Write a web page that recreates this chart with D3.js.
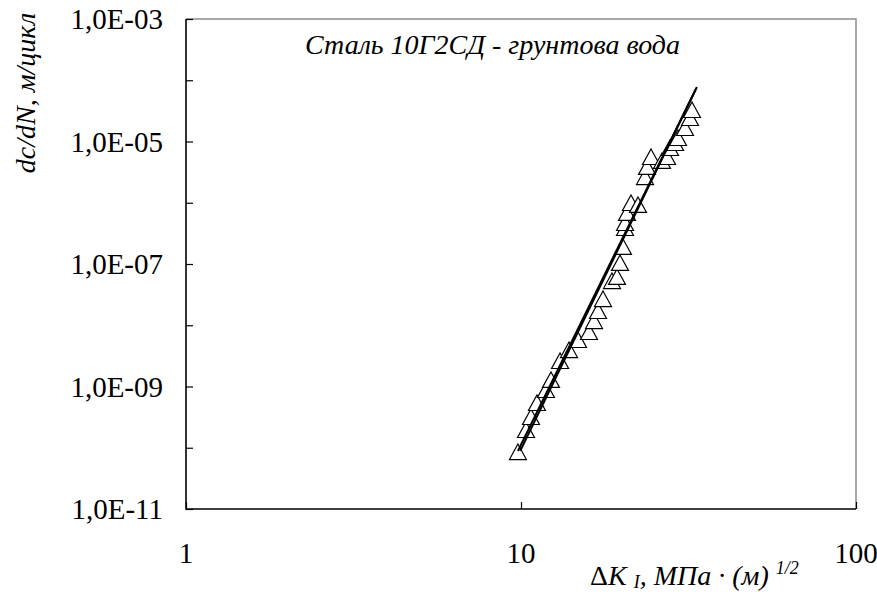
<!DOCTYPE html>
<html>
<head>
<meta charset="utf-8">
<script src="https://cdn.jsdelivr.net/npm/d3@7"></script>
<style>
  body { margin: 0; background: #fff; }
  text { font-family: "Liberation Serif", "Times New Roman", serif; fill: #000; }
</style>
</head>
<body>
<svg id="chart" width="877" height="592"></svg>
<script>
// measured points: stress intensity range and crack growth rate
var dK = [9.79, 10.35, 10.71, 11.16, 11.87, 12.29, 13.08, 13.91, 14.80, 15.96,
          16.52, 16.98, 17.57, 18.69, 19.35, 19.75, 20.16, 20.44, 20.44, 20.72,
          21.30, 22.35, 23.45, 23.78, 24.44, 26.36, 27.29, 27.85, 28.83, 29.42,
          30.87, 31.95, 32.39];
var rate = [8.5e-11, 1.95e-10, 3.18e-10, 5.38e-10, 8.77e-10, 1.28e-9, 2.61e-9, 3.94e-9, 5.74e-9, 7.76e-9,
            1.17e-8, 1.71e-8, 2.68e-8, 5.27e-8, 6.14e-8, 1.04e-7, 1.90e-7, 3.87e-7, 4.67e-7, 6.81e-7,
            9.9e-7, 9.2e-7, 2.63e-6, 3.84e-6, 5.58e-6, 4.81e-6, 5.58e-6, 7.83e-6, 9.46e-6, 1.14e-5,
            1.66e-5, 2.42e-5, 3.27e-5];

// fitted lines (two, nearly overlapping)
var fitK1 = [9.79, 33.5], fitV1 = [8.85e-11, 7.76e-5];
var fitK2 = [9.95, 33.2], fitV2 = [8.9e-11, 7.0e-5];

var xTicks = [1, 10, 100];
var yTicks = [1e-11, 1e-9, 1e-7, 1e-5, 1e-3];
var yLabels = ["1,0E-11", "1,0E-09", "1,0E-07", "1,0E-05", "1,0E-03"];

function draw() {
    var svg = d3.select("#chart");
    var pl = 186, pr = 856, pt = 19, pb = 509;

    var x = d3.scaleLog().domain([1, 100]).range([pl, pr]);
    var y = d3.scaleLog().domain([1e-11, 1e-3]).range([pb, pt]);

    // minor ticks 2..9 in every decade
    function minor(lo, hi) {
        var out = [];
        for (var e = lo; e < hi; e++)
            for (var m = 2; m <= 9; m++) out.push(m * Math.pow(10, e));
        return out;
    }

    // frame (top/right grey)
    svg.append("path")
        .attr("d", "M" + pl + "," + pt + "H" + pr + "V" + pb)
        .attr("fill", "none").attr("stroke", "#8c8c8c").attr("stroke-width", 1.5);

    var gx = svg.append("g").attr("transform", "translate(0," + pb + ")");
    gx.call(d3.axisBottom(x).tickValues(minor(0, 2)).tickSize(-5).tickFormat(""));
    gx.call(d3.axisBottom(x).tickValues(xTicks).tickSize(-7).tickFormat(""));
    gx.selectAll(".domain").remove();

    var gy = svg.append("g").attr("transform", "translate(" + pl + ",0)");
    gy.call(d3.axisLeft(y).tickValues(minor(-11, -3)).tickSize(-6).tickFormat(""));
    gy.call(d3.axisLeft(y).tickValues(d3.range(-11, -2).map(e => Math.pow(10, e))).tickSize(-7).tickFormat(""));
    gy.selectAll(".domain").remove();
    svg.selectAll(".tick line").attr("stroke", "#000").attr("stroke-width", 1.2);

    // axis lines
    svg.append("path")
        .attr("d", "M" + pl + "," + pt + "V" + pb + "H" + pr)
        .attr("fill", "none").attr("stroke", "#000").attr("stroke-width", 1.6);

    // tick labels
    svg.selectAll(".xl").data(xTicks).enter().append("text")
        .attr("x", d => x(d)).attr("y", 563)
        .attr("text-anchor", "middle").attr("font-size", 29)
        .text(d => d);

    svg.selectAll(".yl").data(yTicks).enter().append("text")
        .attr("x", 163).attr("y", d => y(d) + 10)
        .attr("text-anchor", "end").attr("font-size", 29)
        .text((d, i) => yLabels[i]);

    // markers
    svg.selectAll(".pt").data(dK).enter().append("path")
        .attr("d", "M0,-8L8.5,7.5L-8.5,7.5Z")
        .attr("transform", (d, i) => "translate(" + x(d) + "," + y(rate[i]) + ")")
        .attr("fill", "#fff").attr("stroke", "#000").attr("stroke-width", 1.2);

    // fit lines
    var line = d3.line().x(d => x(d[0])).y(d => y(d[1]));
    [[fitK1, fitV1], [fitK2, fitV2]].forEach(f => {
        svg.append("path")
            .attr("d", line(f[0].map((k, i) => [k, f[1][i]])))
            .attr("fill", "none").attr("stroke", "#000").attr("stroke-width", 2);
    });

    // titles
    svg.append("text")
        .attr("x", 305).attr("y", 54)
        .attr("font-size", 28).attr("font-style", "italic")
        .text("Сталь 10Г2СД - грунтова вода");

    svg.append("text")
        .attr("transform", "translate(35,93) rotate(-90)")
        .attr("text-anchor", "middle").attr("font-size", 28).attr("font-style", "italic")
        .text("dc/dN, м/цикл");

    var xt = svg.append("text")
        .attr("x", 590).attr("y", 585)
        .attr("font-size", 28).attr("font-style", "italic");
    xt.append("tspan").attr("font-style", "normal").text("Δ");
    xt.append("tspan").text("K ");
    xt.append("tspan").attr("font-size", 18).attr("dy", 3).text("I");
    xt.append("tspan").attr("dy", -3).text(", МПа · (м) ");
    xt.append("tspan").attr("font-size", 18).attr("dy", -11).text("1/2");
}
draw();
</script>
</body>
</html>
